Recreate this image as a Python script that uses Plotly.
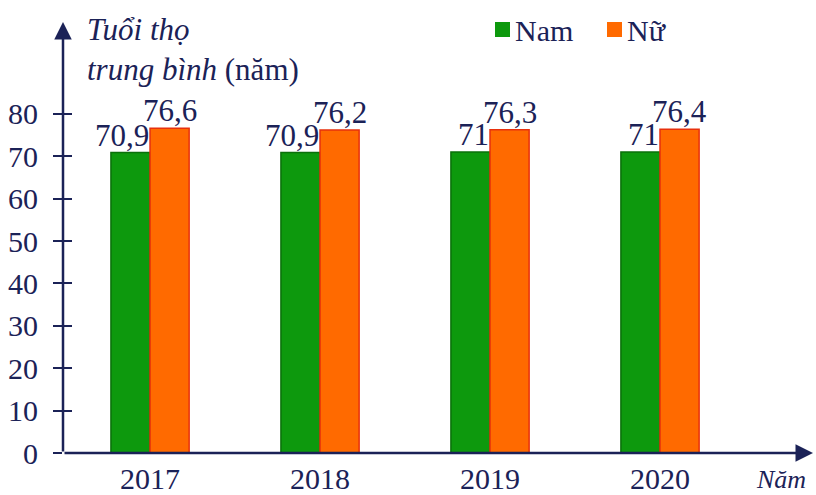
import plotly.graph_objects as go

years = ["2017", "2018", "2019", "2020"]
nam = [70.9, 70.9, 71, 71]
nu = [76.6, 76.2, 76.3, 76.4]
y_ticks = [0, 10, 20, 30, 40, 50, 60, 70, 80]

NAVY = "#1b2257"
GREEN = "#0d990d"
ORANGE = "#ff6a00"
SERIF = "Liberation Serif"

# plot area in pixels: x 63..813, y 22..453
L, R, T, B = 63, 3, 22, 42
W, H = 816, 495
PW, PH = W - L - R, H - T - B


def px(x):
    return (x - L) / PW


def py(y):
    return (H - B - y) / PH


def fmt(v):
    return f"{v:g}".replace(".", ",")


fig = go.Figure()
fig.add_trace(go.Bar(x=years, y=nam, name="Nam", showlegend=False,
                     marker=dict(color=GREEN, line=dict(color="#0a700a", width=1.5))))
fig.add_trace(go.Bar(x=years, y=nu, name="Nữ", showlegend=False,
                     marker=dict(color=ORANGE, line=dict(color="#e8300c", width=1.5))))

# value labels: green ones end at the group centre, orange ones centred on the bar
for i, (a, b) in enumerate(zip(nam, nu)):
    fig.add_annotation(x=i, y=a, text=fmt(a), showarrow=False, xanchor="right", yanchor="bottom",
                       xshift=1, yshift=-2, font=dict(family=SERIF, size=31, color=NAVY))
    fig.add_annotation(x=i + 0.115, y=b, text=fmt(b), showarrow=False, xanchor="center", yanchor="bottom",
                       yshift=-2, font=dict(family=SERIF, size=31, color=NAVY))

fig.update_layout(
    width=W, height=H,
    margin=dict(l=L, r=R, t=T, b=B),
    paper_bgcolor="white", plot_bgcolor="white",
    barmode="group", bargap=0.54, bargroupgap=0,
    font=dict(family=SERIF, color=NAVY),
    showlegend=False,
    xaxis=dict(type="category", range=[-0.512, 3.9], showgrid=False, showline=False, zeroline=False,
               ticks="", tickfont=dict(size=30, color=NAVY), ticklabelstandoff=5, automargin=False),
    yaxis=dict(range=[0, 101.7], tickvals=y_ticks, showgrid=False, showline=False, zeroline=False,
               ticks="outside", ticklen=9, tickwidth=2, tickcolor=NAVY, automargin=False,
               tickfont=dict(size=30, color=NAVY), ticklabelstandoff=9),
    yaxis2=dict(range=[0, 101.7], tickvals=y_ticks[1:], overlaying="y", side="left", showgrid=False,
                showline=False, zeroline=False, showticklabels=False, automargin=False,
                ticks="inside", ticklen=9, tickwidth=2, tickcolor=NAVY),
)
# invisible trace so the inner tick marks of the second y axis are drawn
fig.add_trace(go.Scatter(x=[years[0]], y=[0], yaxis="y2", mode="markers", marker=dict(opacity=0),
                         showlegend=False, hoverinfo="skip"))

# axis arrows
fig.add_annotation(x=0, y=1, xref="paper", yref="paper", ax=0, ay=PH, axref="pixel", ayref="pixel",
                   text="", showarrow=True, arrowhead=2, arrowsize=1.4, arrowwidth=2.5, arrowcolor=NAVY,
                   standoff=0)
fig.add_annotation(x=1, y=0, xref="paper", yref="paper", ax=-PW, ay=0, axref="pixel", ayref="pixel",
                   text="", showarrow=True, arrowhead=2, arrowsize=1.4, arrowwidth=2.5, arrowcolor=NAVY,
                   standoff=0)

# legend drawn by hand: small square right next to the label
for name, color, x0 in [("Nam", GREEN, 495), ("Nữ", ORANGE, 607)]:
    fig.add_shape(type="rect", xref="paper", yref="paper", x0=px(x0), x1=px(x0 + 15),
                  y0=py(37), y1=py(22), fillcolor=color, line=dict(width=0))
    fig.add_annotation(x=px(x0 + 18), y=py(30), xref="paper", yref="paper", xanchor="left",
                       yanchor="middle", showarrow=False, text=name,
                       font=dict(family=SERIF, size=30, color=NAVY))

fig.add_annotation(x=px(85), y=py(10), xref="paper", yref="paper", xanchor="left", yanchor="top",
                   align="left", showarrow=False,
                   text="<i>Tuổi thọ</i><br><i>trung bình</i> (năm)",
                   font=dict(family=SERIF, size=31, color=NAVY))
fig.add_annotation(x=px(808), y=py(479), xref="paper", yref="paper", xanchor="right", yanchor="middle",
                   showarrow=False, text="<i>Năm</i>", font=dict(family=SERIF, size=26, color=NAVY))

# drop the default body margin so the figure sits at the page corner
fig.write_html("out.html", config={"displayModeBar": False},
               post_script="document.body.style.margin='0';")
